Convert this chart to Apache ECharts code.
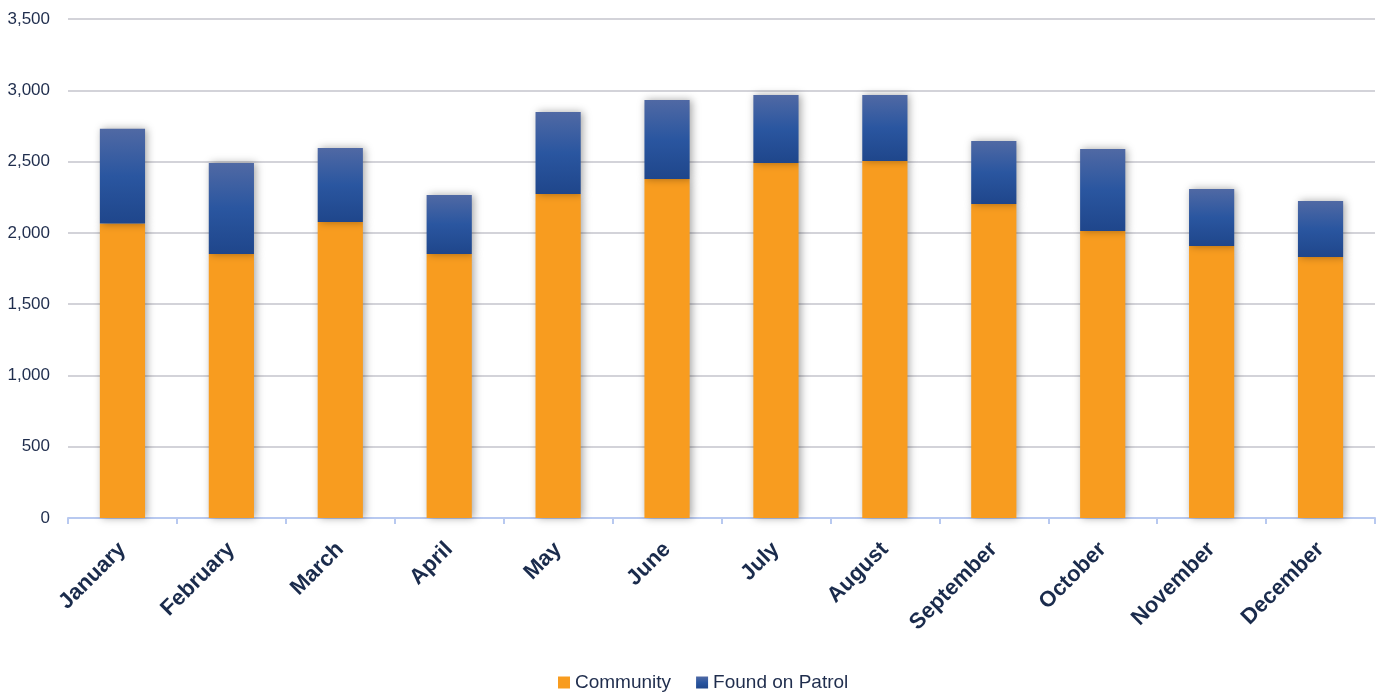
<!DOCTYPE html>
<html><head><meta charset="utf-8">
<script src="https://cdn.jsdelivr.net/npm/echarts@6/dist/echarts.min.js"></script>
<style>html,body{margin:0;padding:0;background:#fff}#c{width:1380px;height:692px}</style>
</head><body><div id="c"></div>
<script>
const categories = ["January","February","March","April","May","June","July","August","September","October","November","December"];
const community = [2065, 1852, 2076, 1852, 2273, 2378, 2490, 2504, 2202, 2013, 1908, 1831];
const foundOnPatrol = [665, 638, 519, 414, 575, 554, 477, 463, 442, 575, 400, 392];
const yTicks = [0, 500, 1000, 1500, 2000, 2500, 3000, 3500];

const chart = echarts.init(document.getElementById('c'));
const font = '"Liberation Sans",Arial,sans-serif';
const shadow = {shadowColor:'rgba(0,0,0,0.35)', shadowBlur:8, shadowOffsetX:2, shadowOffsetY:0};
chart.setOption({
  animation:false,
  grid:{left:68, right:5, top:19, bottom:174, containLabel:false},
  legend:{top:668, left:553, itemWidth:12, itemHeight:12, itemGap:25,
    icon:'rect',
    textStyle:{fontFamily:font, fontSize:19, color:'#1f2d4d'},
    data:['Community','Found on Patrol']},
  xAxis:{type:'category', data:categories,
    axisLine:{lineStyle:{color:'#b8c9f0', width:2}},
    axisTick:{show:true, length:6, lineStyle:{color:'#b8c9f0', width:2}},
    axisLabel:{rotate:45, fontFamily:font, fontWeight:'bold', fontSize:22, color:'#1a2b4c', margin:28, interval:0}},
  yAxis:{type:'value', min:0, max:3500, interval:500,
    axisLine:{show:false}, axisTick:{show:false},
    splitLine:{lineStyle:{color:'#d3d3d9', width:2}},
    axisLabel:{fontFamily:font, fontSize:17, color:'#1f2d4d', margin:18,
      formatter:v=>yTicks.includes(v)? v.toLocaleString('en-US') : ''}},
  series:[
    {name:'Community', type:'bar', stack:'t', data:community, barWidth:'41.5%',
      itemStyle:Object.assign({color:'#f89c1f'}, shadow)},
    {name:'Found on Patrol', type:'bar', stack:'t', data:foundOnPatrol, barWidth:'41.5%',
      itemStyle:Object.assign({color:new echarts.graphic.LinearGradient(0,0,0,1,[
        {offset:0,color:'#5069a4'},{offset:0.5,color:'#2a56a0'},{offset:1,color:'#1f468b'}])}, shadow)}
  ]
});
</script></body></html>
